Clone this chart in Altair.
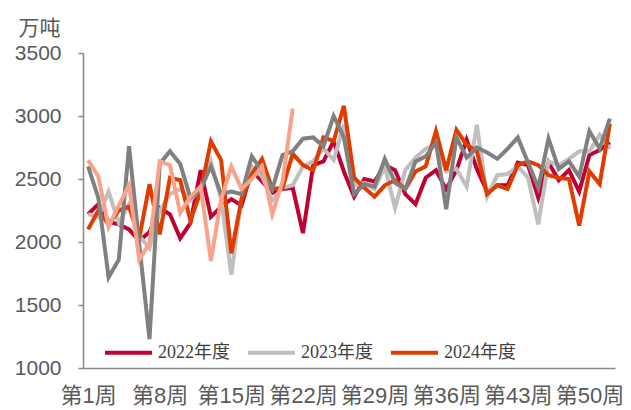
import altair as alt
import pandas as pd

weeks = list(range(1, 53))
week_labels = [f"第{w}周" for w in weeks]
tick_labels = ["第1周", "第8周", "第15周", "第22周", "第29周", "第36周", "第43周", "第50周"]

s2021 = [2600, 2350, 1720, 1860, 2760, 1980, 1230, 2620, 2720, 2620,
         2350, 2420, 2600, 2380, 2400, 2380, 2680, 2560, 2420, 2690,
         2720, 2820, 2830, 2760, 3000, 2830, 2380, 2460, 2440, 2660,
         2470, 2420, 2640, 2680, 2790, 2260, 2830, 2670, 2750, 2710,
         2660, 2740, 2830, 2630, 2430, 2820, 2580, 2640, 2520, 2880,
         2740, 2980]
s2022 = [2220, 2300, 2160, 2140, 2100, 2010, 2080, 2270, 2220, 2030,
         2150, 2570, 2200, 2280, 2340, 2290, 2570, 2480, 2390, 2420,
         2430, 2070, 2610, 2640, 2800, 2560, 2360, 2500, 2480, 2610,
         2570, 2380, 2300, 2510, 2570, 2420, 2570, 2810, 2580, 2400,
         2450, 2450, 2630, 2610, 2350, 2630, 2490, 2570, 2400, 2690,
         2730, 2790]
s2023 = [2220, 2200, 2400, 2150, 2300, 2050, 1950, 2250, 2380, 2420,
         2330, 2430, 2640, 2340, 1740, 2360, 2600, 2520, 2330, 2430,
         2450, 2600, 2640, 2740, 2650, 2930, 2450, 2470, 2420, 2600,
         2270, 2570, 2670, 2740, 2770, 2560, 2580, 2440, 2930, 2360,
         2530, 2540, 2600, 2510, 2140, 2640, 2610, 2660, 2720, 2720,
         2850, 2740]
s2024 = [2100, 2250, 2140, 2250, 2280, 2030, 2460, 2060, 2510, 2490,
         2170, 2400, 2800, 2650, 1910, 2340, 2540, 2660, 2420, 2430,
         2700, 2610, 2570, 2830, 2800, 3080, 2510, 2430, 2360, 2450,
         2490, 2420, 2560, 2600, 2880, 2570, 2890, 2770, 2720, 2380,
         2450, 2420, 2610, 2640, 2610, 2530, 2510, 2500, 2130, 2560,
         2460, 2940]
s2025 = [2650, 2520, 2120, 2290, 2450, 1860, 1990, 2640, 2610, 2230,
         2360, 2440, 1850, 2340, 2600, 2420, 2500, 2600, 2220, 2480,
         3060]

series_names = ["2021年度", "2022年度", "2023年度", "2024年度", "2025年度"]
series_values = [s2021, s2022, s2023, s2024, s2025]
colors = ["#808080", "#C00032", "#BFBFBF", "#E03C00", "#F8A48C"]
legend_names = ["2022年度", "2023年度", "2024年度"]
draw_order = ["2022年度", "2023年度", "2024年度", "2021年度", "2025年度"]

rows = []
for name, vals in zip(series_names, series_values):
    for i, v in enumerate(vals):
        rows.append({"周": week_labels[i], "值": v, "年度": name})
df = pd.DataFrame(rows)

sans = "Liberation Sans, Noto Sans CJK SC"
serif = "Liberation Serif, Noto Sans CJK SC"

x_enc = alt.X("周:N", scale=alt.Scale(domain=week_labels, type="point", padding=0.5),
              axis=alt.Axis(values=tick_labels, labelAngle=0, ticks=False, grid=False,
                            labelFont=sans, labelFontSize=22, labelColor="#595959",
                            labelPadding=17, labelOverlap=False, domainColor="#898989",
                            domainWidth=1.5, title=None))
y_enc = alt.Y("值:Q", scale=alt.Scale(domain=[1000, 3500], nice=False, zero=False),
              axis=alt.Axis(values=[1000, 1500, 2000, 2500, 3000, 3500], format="d",
                            grid=False, labelFont=sans, labelFontSize=21, labelColor="#595959",
                            labelPadding=17, tickSize=5, tickColor="#898989", tickWidth=1.5,
                            domainColor="#898989", domainWidth=1.5,
                            title="万吨", titleAngle=0, titleX=-44, titleY=-25,
                            titleAlign="center", titleBaseline="middle", titleFont=sans,
                            titleFontSize=21, titleFontWeight="normal", titleColor="#595959"))
color_enc = alt.Color("年度:N", scale=alt.Scale(domain=series_names, range=colors),
                      legend=alt.Legend(values=legend_names, title=None, orient="none",
                                        legendX=20, legendY=274, direction="horizontal",
                                        columns=3, symbolType="stroke", symbolSize=2209,
                                        symbolStrokeWidth=4, labelFont=serif, labelFontSize=18,
                                        labelColor="#404040", labelOffset=4, columnPadding=10,
                                        padding=0))

base = alt.Chart(df)
layers = []
for name in draw_order:
    layers.append(
        base.transform_filter(alt.datum["年度"] == name)
        .mark_line(strokeWidth=4)
        .encode(x=x_enc, y=y_enc, color=color_enc)
    )

chart = alt.layer(*layers).properties(
    width=532, height=315,
    autosize=alt.AutoSizeParams(type="none"),
    padding={"left": 75, "top": 45, "right": 8, "bottom": 40},
    background="white",
).configure_view(stroke=None)

chart.save("out.html", embed_options={"renderer": "svg", "actions": False})
